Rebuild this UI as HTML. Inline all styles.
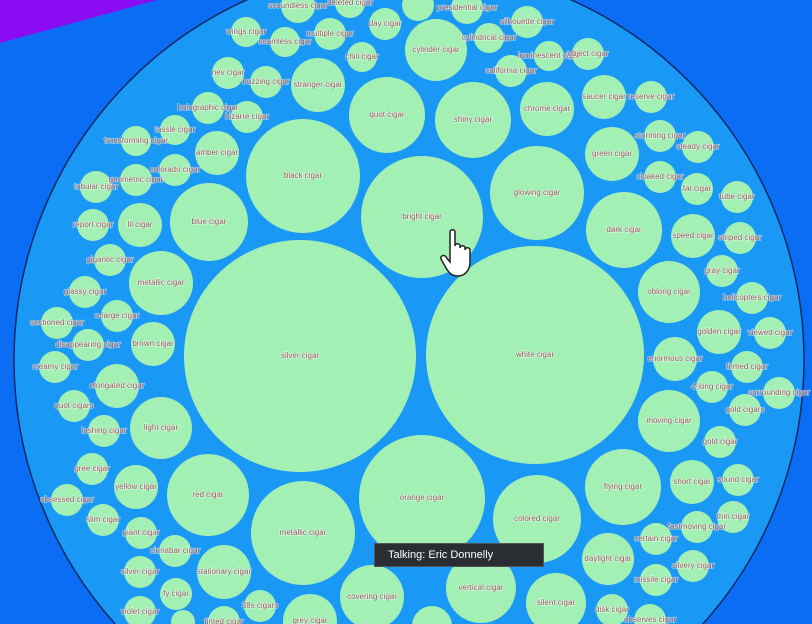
<!DOCTYPE html>
<html><head><meta charset="utf-8"><style>
html,body{margin:0;padding:0;width:812px;height:624px;overflow:hidden;background:#0b6cf4;font-family:"Liberation Sans",sans-serif}
svg{position:absolute;left:0;top:0;overflow:hidden}
.lbl{font-size:8px;fill:#8a5a5a;stroke:#ffffff;stroke-width:1.3px;paint-order:stroke;stroke-opacity:.6;text-anchor:middle;dominant-baseline:middle}
#tooltip{position:absolute;left:374px;top:543px;width:170px;height:24px;background:#2a2e33;border:1px solid #555;box-sizing:border-box;color:#fff;font-size:11px;line-height:22px;padding-left:13px}
</style></head><body>
<svg id="chart" width="812" height="624" viewBox="0 0 812 624">
<polygon points="0,0 157,0 0,43" fill="#8a0cf2"/>
<circle cx="409" cy="360" r="395" fill="#1a98f6" stroke="#0a2a66" stroke-width="1.5"/>
<g id="bubbles"></g>
<g transform="translate(441,230)">
<path d="M9,2 C9,-1 14,-1 14,2 L14,16 C14,13 19,13 19,16 L19,18 C19,15 24,15 24,18 L24,20 C24,17 29,17 29,20 L29,32 C29,40 24,46 17,46 C11,46 8,43 5,38 L0,29 C-1,26 3,24 5,27 L9,32 Z" fill="#fff" stroke="#222" stroke-width="1.5"/>
</g>
</svg>
<div id="tooltip">Talking: Eric Donnelly</div>
<script>
const labels=["scoundless cigar","deleted cigar","day cigar","wings cigar","seamless cigar","multiple cigar","chili cigar","nev cigar","buzzing cigar","stranger cigar","quot cigar","holographic cigar","bizarre cigar","tassle cigar","transforming cigar","amber cigar","colorado cigar","geometric cigar","tubular cigar","black cigar","blue cigar","report cigar","lil cigar","gigantic cigar","metallic cigar","glassy cigar",
"","presidential cigar","silhouette cigar","cylindrical cigar","cylinder cigar","luminescent cigar","object cigar","california cigar","shiny cigar","chrome cigar","saucer cigar","reserve cigar","storming cigar","green cigar","steady cigar","cloaked cigar","fat cigar","tube cigar","glowing cigar","bright cigar","dark cigar","speed cigar","striped cigar","gray cigar","oblong cigar","helicopters cigar",
"sectioned cigar","a-large cigar","disappearing cigar","brown cigar","creamy cigar","elongated cigar","quot cigars","lashing cigar","light cigar","silver cigar","gree cigar","yellow cigar","red cigar","obsessed cigar","slim cigar","giant cigar","metallic cigar","cinnabar cigar","silver cigar","stationary cigar","fy cigar","38s cigars","violet cigar","grey cigar","tinted cigar","covering cigar","",
"golden cigar","viewed cigar","enormous cigar","firmed cigar","4-long cigar","surrounding cigar","gold cigars","moving cigar","gold cigar","white cigar","flying cigar","short cigar","sound cigar","thin cigar","fastmoving cigar","orange cigar","colored cigar","certain cigar","daylight cigar","silvery cigar","missile cigar","vertical cigar","silent cigar","disk cigar","observes cigar",""];
const xs=[298,350,385,246,285,330,362,228,266,318,387,208,247,175,136,217,175,136,96,303,209,93,140,110,161,85,
418,467,527,489,436,549,588,511,473,547,604,651,660,612,698,660,697,737,537,422,624,693,740,722,669,752,
57,117,88,153,55,117,74,104,161,300,92,136,208,67,103,141,303,175,140,224,176,260,140,310,224,372,183,
719,770,675,747,712,779,745,669,720,535,623,692,738,733,697,422,537,656,608,693,656,481,556,612,650,432];
const ys=[6,3,24,32,42,34,57,73,82,85,115,108,117,130,141,153,170,180,187,176,222,225,225,260,283,292,
5,8,22,38,50,56,54,71,120,109,97,97,136,154,147,177,189,197,193,217,230,236,238,271,292,298,
323,316,345,344,367,386,406,431,428,356,469,487,495,500,520,533,533,551,572,572,594,606,612,621,622,597,622,
332,333,359,367,387,393,410,421,442,355,487,482,480,517,527,498,519,539,559,566,580,588,603,610,620,626];
const sizes=[17,15,16,15,15,16,15,16,16,27,38,16,16,15,15,22,16,16,16,57,39,16,22,16,32,16,
16,16,16,15,31,15,16,16,38,27,22,16,16,27,16,16,16,16,47,61,38,22,16,16,31,16,
16,16,16,22,16,22,16,16,31,116,16,22,41,16,16,16,52,16,16,27,16,16,16,27,16,32,12,
22,16,22,16,16,16,16,31,16,109,38,22,16,16,16,63,44,16,26,16,16,35,30,16,16,20];
const g=document.getElementById('bubbles');
const NS='http://www.w3.org/2000/svg';
for(let i=0;i<labels.length;i++){
  const c=document.createElementNS(NS,'circle');
  c.setAttribute('cx',xs[i]);c.setAttribute('cy',ys[i]);c.setAttribute('r',sizes[i]);
  c.setAttribute('fill','#a3f0b5');
  
  
  g.appendChild(c);
}
for(let i=0;i<labels.length;i++){
  if(!labels[i])continue;
  const t=document.createElementNS(NS,'text');
  t.setAttribute('x',xs[i]);t.setAttribute('y',ys[i]);
  t.setAttribute('class','lbl');
  t.textContent=labels[i];
  
  
  g.appendChild(t);
}
</script>
</body></html>
